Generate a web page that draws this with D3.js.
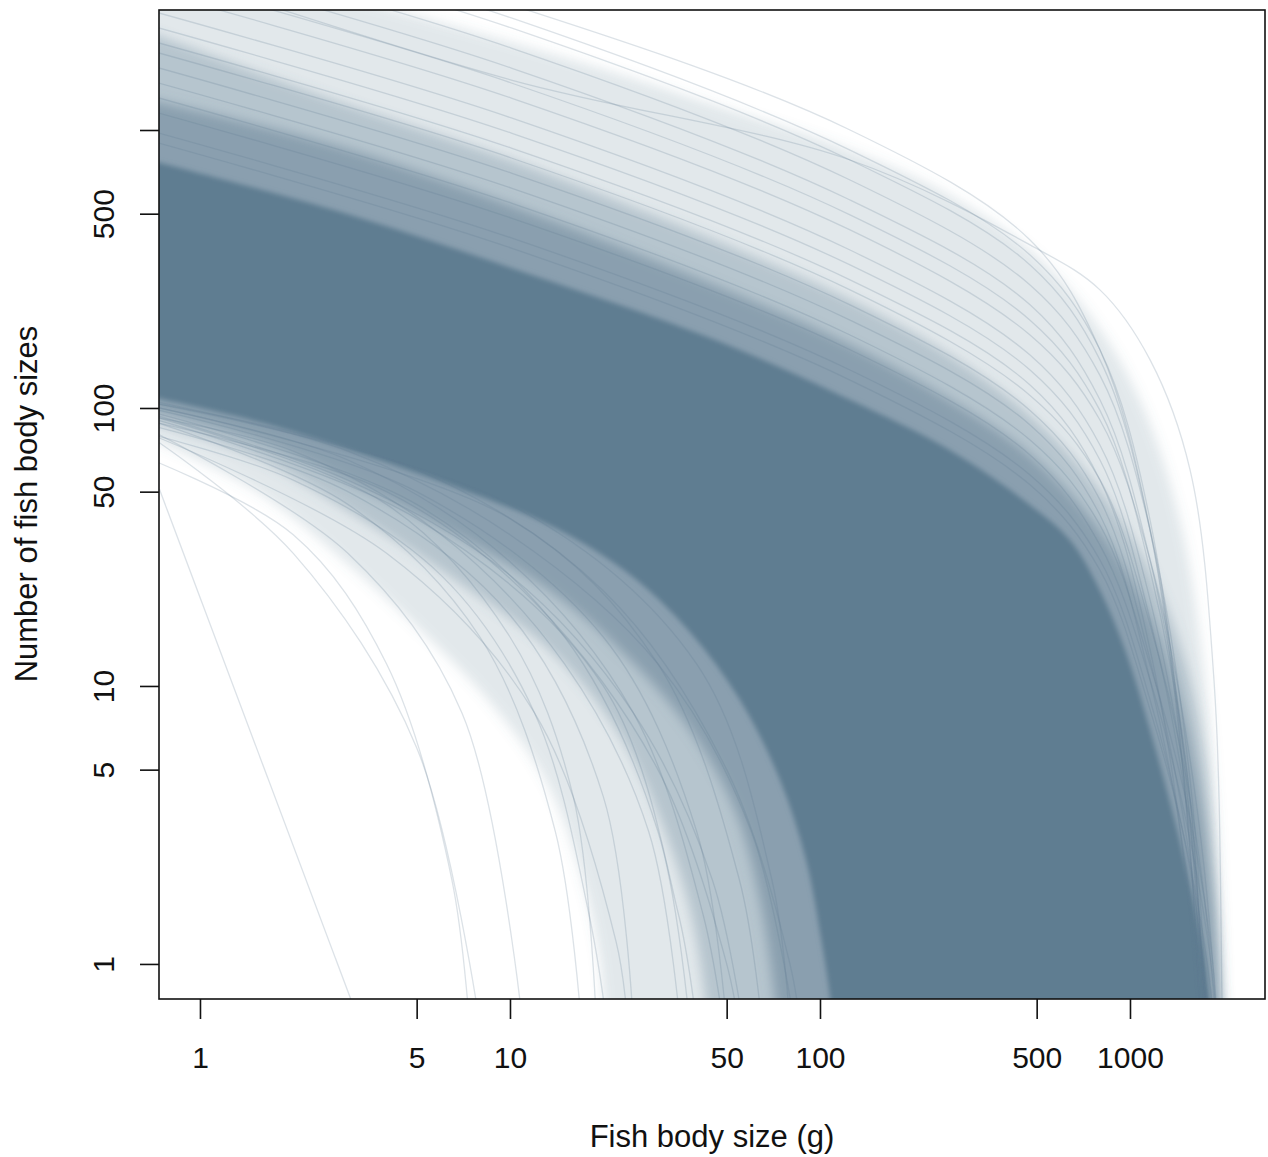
<!DOCTYPE html>
<html>
<head>
<meta charset="utf-8">
<script src="https://cdn.jsdelivr.net/npm/d3@7"></script>
<style>
  body { margin: 0; background: #fff; }
  text { font-family: "Liberation Sans", Arial, Helvetica, sans-serif; fill: #111; }
</style>
</head>
<body>
<svg width="1268" height="1157"></svg>
<script>
// axis ranges and ticks
const xDomain = [0.7376, 2726];
const yDomain = [0.748, 2702];
const xTicks = [1, 5, 10, 50, 100, 500, 1000];
const yTicks = [1, 5, 10, 50, 100, 500, 1000];
const yTickLabels = ['1', '5', '10', '50', '100', '500', ''];

// envelopes of the curve bundle, [body size (g), number]
const coreUpper = [[0.594,813],[2.71,515],[10.1,319],[45.8,176],[125,107],[262,70.6],[476,44.8],[640,33.5],[800,22.1],[964,13.5],[1161,6.94],[1366,3.58],[1563,1.92],[1746,1.03],[1866,0.533]];
const coreLower = [[0.594,114],[1.5,89.8],[3.16,69.5],[6.65,52],[14,37],[24.4,25.1],[38.1,15.6],[55.2,8.9],[74.3,4.59],[90.1,2.37],[101,1.22],[108,0.742],[110,0.533]];
const innerUpper = [[0.594,1336],[2.71,883],[10.1,537],[45.8,277],[125,169],[262,107],[476,67.8],[800,36.4],[1161,18],[1449,8.9],[1683,3.9],[1840,1.7],[1936,0.75],[1950,0.533]];
const innerLower = [[0.594,102],[1.5,76.7],[3.16,52.9],[6.65,34.9],[14,21.3],[24.4,12.4],[38.1,6.94],[53.2,3.58],[64,1.7],[71.6,0.742],[73.2,0.533]];
const midUpper = [[0.594,2386],[2.71,1282],[10.1,780],[45.8,402],[125,245],[262,155],[476,94.4],[800,50.7],[1161,26.1],[1504,12.4],[1746,5.42],[1893,2],[1981,0.75],[1995,0.533]];
const midLower = [[0.594,94.4],[1.5,66.6],[3.16,41.2],[6.65,24],[14,12.9],[22.6,6.66],[30.5,3.3],[38.1,1.56],[42.6,0.742],[43.3,0.533]];
const outerUpper = [[0.594,4823],[2.1,3324],[6.4,2386],[19.5,1671],[45.8,1230],[125,847],[262,584],[476,370],[743,216],[1077,107],[1449,39.5],[1746,10.5],[1921,2.57],[2010,0.75],[2025,0.533]];
const outerLower = [[0.594,83.4],[1.5,50.7],[3.16,26.1],[5.13,15.9],[8.49,8.9],[13,4.59],[16.8,2.18],[19.5,1.03],[20.3,0.533]];

// single curves that stand out from the bundle
const upperCurves = [
  [[0.594,6714],[10.1,2818],[125,1000],[476,402],[800,162],[1161,36.4],[1563,2.57],[1866,0.027]],
  [[0.594,4090],[10.1,1513],[125,780],[476,386],[800,266],[1161,149],[1563,59.8],[1866,10.5],[1981,0.748],[2010,0.0619]],
  [[0.594,4260],[10.1,1671],[125,560],[476,235],[800,107],[1161,28.4],[1563,3.89],[1866,0.0619]],
  [[0.594,2818],[10.1,1105],[125,370],[476,155],[800,73.6],[1161,20.4],[1563,3.3],[1866,0.214]],
  [[0.594,2023],[10.1,793],[125,266],[476,111],[800,55.1],[1161,16.6],[1563,3.89],[1866,0.742],[1981,0.0619]],
  [[0.594,1577],[10.1,618],[125,207],[476,86.9],[800,41.2],[1161,10.5],[1563,1.7],[1866,0.0619]],
  [[0.594,1230],[10.1,482],[125,162],[476,67.8],[800,32.1],[1161,10.5],[1563,2.79],[1866,0.806],[1981,0.142]],
  [[0.594,6446],[10.1,2529],[125,847],[476,355],[800,162],[1161,39.5],[1563,2.57],[1866,0.027]],
  [[0.594,3324],[10.1,1303],[125,437],[476,183],[800,90.5],[1161,28.4],[1563,5.42],[1866,0.875],[1981,0.0936]],
  [[0.594,2197],[10.1,861],[125,289],[476,121],[800,55.1],[1161,13.5],[1563,1.44],[1866,0.027]],
  [[0.594,1042],[10.1,409],[125,137],[476,57.4],[800,28.4],[1161,8.91],[1563,2.18],[1866,0.451]],
  [[0.594,5027],[10.1,1972],[125,661],[476,277],[800,131],[1161,36.4],[1563,4.59],[1866,0.214]],
  [[0.594,959],[10.1,376],[125,126],[476,52.9],[800,26.1],[1161,8.2],[1563,2.27],[1866,0.629],[1981,0.1]],
  [[0.594,1393],[10.1,546],[125,183],[476,76.7],[800,37.9],[1161,11.9],[1563,3.3],[1866,0.913],[1981,0.142]],
  [[0.594,2488],[10.1,975],[125,327],[476,137],[800,65],[1161,17.3],[1563,3.03],[1866,0.214]],
  [[0.594,3765],[10.1,1476],[125,495],[476,207],[800,98],[1161,26.1],[1563,3.89],[1866,0.0936]],
  [[0.594,5933],[10.1,2328],[125,780],[476,327],[800,149],[1161,36.4],[1563,3.3],[1866,0.0619]],
  [[0.594,1786],[10.1,700],[125,235],[476,98],[800,46.7],[1161,12.4],[1563,2.37],[1866,0.324]]
];
const lowerCurves = [
  [[0.74,51],[3.3,0.6]],
  [[0.74,75],[2,30],[5,6],[8,0.6]],
  [[0.74,80],[3,30],[7,8],[11,0.6]],
  [[0.74,88],[3,45],[8,15],[14,3],[17,0.6]],
  [[0.74,92],[4,45],[10,15],[16,4],[19,0.6]],
  [[0.74,85],[3,50],[10,18],[20,4],[25,0.6]],
  [[0.74,95],[5,45],[15,15],[30,3],[38,0.6]],
  [[0.74,98],[5,50],[20,15],[40,3],[50,0.6]],
  [[0.74,100],[10,40],[30,12],[55,2],[65,0.6]],
  [[0.74,103],[10,45],[40,12],[70,2],[80,0.6]],
  [[0.74,90],[5,40],[20,10],[35,1.5],[40,0.6]],
  [[0.74,78],[4,30],[12,8],[22,1.2],[24,0.6]],
  [[0.594,110],[3,70],[10,35],[30,12],[60,3],[85,0.5]],
  [[0.594,100],[3,55],[10,25],[25,8],[45,2],[58,0.5]],
  [[0.594,96],[2,70],[6,35],[15,12],[28,3],[36,0.5]],
  [[0.594,105],[3,65],[10,28],[25,8],[42,1.5],[50,0.5]],
  [[0.594,84],[2,55],[6,25],[12,8],[18,1.5],[21,0.5]],
  [[0.594,93],[4,50],[12,20],[30,5],[50,1],[56,0.5]],
  [[0.594,70],[2,35],[4,12],[6.5,2],[7.5,0.5]],
  [[0.594,108],[5,60],[20,22],[50,5],[80,1],[88,0.5]]
];

const svg = d3.select('svg');
const colour = '#5f7d91';

const x = d3.scaleLog().domain(xDomain).range([159, 1265]);
const y = d3.scaleLog().domain(yDomain).range([999, 10]);

const line = d3.line()
  .x(d => x(d[0]))
  .y(d => y(d[1]))
  .curve(d3.curveCatmullRom.alpha(0.5));

// closed shape between an upper and a lower envelope
function band(upper, lower) {
  const a = line(upper);
  const b = line(lower.slice().reverse());
  return a + 'L' + b.slice(1) + 'Z';
}

const defs = svg.append('defs');
defs.append('clipPath').attr('id', 'plot')
  .append('rect').attr('x', 159).attr('y', 10).attr('width', 1106).attr('height', 989);
defs.append('filter').attr('id', 'soft').attr('x', '-10%').attr('y', '-10%').attr('width', '120%').attr('height', '120%')
  .append('feGaussianBlur').attr('stdDeviation', 6);
defs.append('filter').attr('id', 'softer').attr('x', '-10%').attr('y', '-10%').attr('width', '120%').attr('height', '120%')
  .append('feGaussianBlur').attr('stdDeviation', 2.5);

const g = svg.append('g').attr('clip-path', 'url(#plot)');

const bands = [
  {upper: outerUpper, lower: outerLower, op: 0.18, f: 'soft'},
  {upper: midUpper, lower: midLower, op: 0.33, f: 'soft'},
  {upper: innerUpper, lower: innerLower, op: 0.52, f: 'soft'},
  {upper: coreUpper, lower: coreLower, op: 1, f: 'softer'}
];

g.selectAll('path.band').data(bands).join('path')
  .attr('class', 'band')
  .attr('d', d => band(d.upper, d.lower))
  .attr('fill', colour)
  .attr('fill-opacity', d => d.op)
  .attr('filter', d => `url(#${d.f})`);

g.selectAll('path.up').data(upperCurves).join('path')
  .attr('class', 'up')
  .attr('d', line)
  .attr('fill', 'none')
  .attr('stroke', colour)
  .attr('stroke-opacity', 0.22)
  .attr('stroke-width', 1.3);

g.selectAll('path.low').data(lowerCurves).join('path')
  .attr('class', 'low')
  .attr('d', line)
  .attr('fill', 'none')
  .attr('stroke', colour)
  .attr('stroke-opacity', 0.22)
  .attr('stroke-width', 1.3);

// box
svg.append('rect')
  .attr('x', 159).attr('y', 10).attr('width', 1106).attr('height', 989)
  .attr('fill', 'none').attr('stroke', '#111').attr('stroke-width', 1.6);

// x axis
const xAxis = svg.append('g')
  .attr('transform', 'translate(0,999)')
  .call(d3.axisBottom(x).tickValues(xTicks).tickFormat(d3.format('d')).tickSize(20).tickPadding(28));
xAxis.select('.domain').remove();
xAxis.selectAll('line').attr('stroke', '#111').attr('stroke-width', 1.6);
xAxis.selectAll('text').attr('font-size', 30).style('font-family', '"Liberation Sans", Arial, sans-serif').attr('fill', '#111');

// y axis, labels turned like R does
const yAxis = svg.append('g')
  .attr('transform', 'translate(159,0)')
  .call(d3.axisLeft(y).tickValues(yTicks).tickFormat((d, i) => yTickLabels[i]).tickSize(19));
yAxis.select('.domain').remove();
yAxis.selectAll('line').attr('stroke', '#111').attr('stroke-width', 1.6);
yAxis.selectAll('text')
  .attr('x', 0).attr('y', -45).attr('dy', 0)
  .attr('transform', 'rotate(-90)')
  .attr('text-anchor', 'middle')
  .attr('font-size', 30)
  .style('font-family', '"Liberation Sans", Arial, sans-serif')
  .attr('fill', '#111');

svg.append('text')
  .attr('x', 712).attr('y', 1147)
  .attr('text-anchor', 'middle')
  .attr('font-size', 31)
  .text('Fish body size (g)');

svg.append('text')
  .attr('transform', 'translate(37,504) rotate(-90)')
  .attr('text-anchor', 'middle')
  .attr('font-size', 31)
  .text('Number of fish body sizes');
</script>
</body>
</html>
